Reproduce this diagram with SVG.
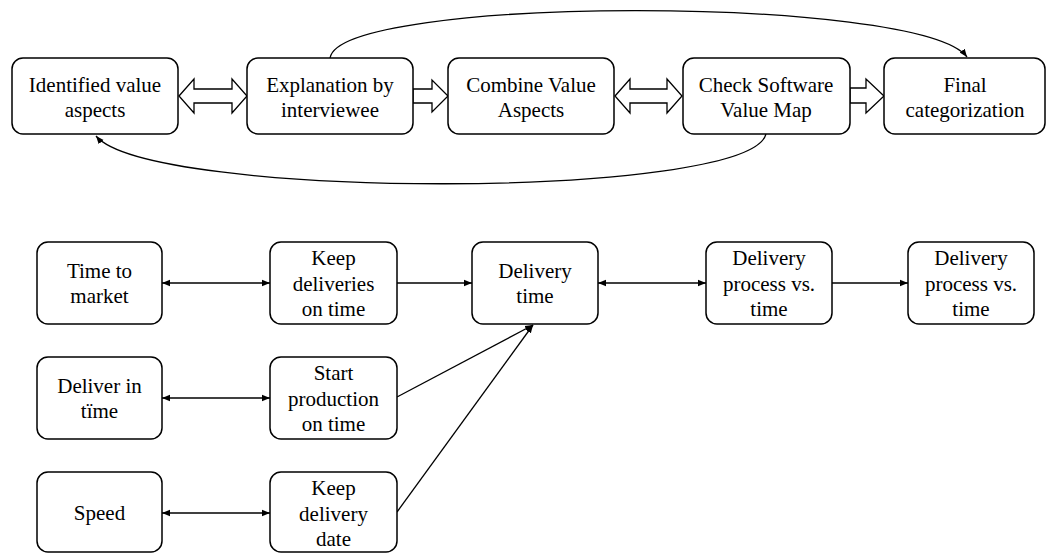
<svg xmlns="http://www.w3.org/2000/svg" width="1047" height="553" viewBox="0 0 1047 553">
<style>
.box{fill:#fff;stroke:#000;stroke-width:1.5}
.t{font-family:"Liberation Serif","Times New Roman",serif;font-size:21px;fill:#000;text-anchor:middle}
.ln{fill:none;stroke:#000;stroke-width:1.3}
.hollow{fill:#fff;stroke:#000;stroke-width:1.3;stroke-linejoin:miter}
</style>
<defs>
<marker id="ah" markerUnits="userSpaceOnUse" markerWidth="9" markerHeight="8" refX="8" refY="4" orient="auto-start-reverse">
<path d="M0,0.8 L8,4 L0,7.2 z" fill="#000"/>
</marker>
</defs>
<rect width="1047" height="553" fill="#fff"/>
<g id="connectors">
<polygon class="hollow" points="179,96 194,79 194,89 232,89 232,79 247,96 232,113 232,103 194,103 194,113"/>
<polygon class="hollow" points="413,89 432,89 432,80 448,96 432,112 432,103 413,103"/>
<polygon class="hollow" points="615,96 630,79 630,89 667,89 667,79 682,96 667,113 667,103 630,103 630,113"/>
<polygon class="hollow" points="850,88 866,88 866,79 884,96 866,113 866,103 850,103"/>
<path class="ln" d="M330,58 C340,-5 920,-5 967,57" marker-end="url(#ah)"/>
<path class="ln" d="M766,134 C750,200 150,200 96,136" marker-end="url(#ah)"/>
<line class="ln" x1="162" y1="283" x2="270" y2="283" marker-start="url(#ah)" marker-end="url(#ah)"/>
<line class="ln" x1="397" y1="283" x2="472" y2="283" marker-end="url(#ah)"/>
<line class="ln" x1="598" y1="283" x2="706" y2="283" marker-start="url(#ah)" marker-end="url(#ah)"/>
<line class="ln" x1="832" y1="283" x2="908" y2="283" marker-end="url(#ah)"/>
<line class="ln" x1="162" y1="398" x2="270" y2="398" marker-start="url(#ah)" marker-end="url(#ah)"/>
<line class="ln" x1="162" y1="513" x2="270" y2="513" marker-start="url(#ah)" marker-end="url(#ah)"/>
<line class="ln" x1="397" y1="397" x2="533" y2="325" marker-end="url(#ah)"/>
<line class="ln" x1="397" y1="512" x2="533" y2="325" marker-end="url(#ah)"/>
</g>
<g id="n1"><rect class="box" x="12" y="58" width="166" height="76" rx="11"/><text class="t" x="95" y="92">Identified value</text><text class="t" x="95" y="117">aspects</text></g>
<g id="n2"><rect class="box" x="247" y="58" width="166" height="76" rx="11"/><text class="t" x="330" y="92">Explanation by</text><text class="t" x="330" y="117">interviewee</text></g>
<g id="n3"><rect class="box" x="448" y="58" width="166" height="76" rx="11"/><text class="t" x="531" y="92">Combine Value</text><text class="t" x="531" y="117">Aspects</text></g>
<g id="n4"><rect class="box" x="683" y="58" width="167" height="76" rx="11"/><text class="t" x="766" y="92">Check Software</text><text class="t" x="766" y="117">Value Map</text></g>
<g id="n5"><rect class="box" x="884" y="58" width="161" height="76" rx="11"/><text class="t" x="965" y="92">Final</text><text class="t" x="965" y="117">categorization</text></g>
<g id="b1"><rect class="box" x="37" y="242" width="125" height="82" rx="11"/><text class="t" x="99.5" y="278">Time to</text><text class="t" x="99.5" y="303">market</text></g>
<g id="b2"><rect class="box" x="270" y="242" width="127" height="82" rx="11"/><text class="t" x="333.5" y="265">Keep</text><text class="t" x="333.5" y="291">deliveries</text><text class="t" x="333.5" y="316">on time</text></g>
<g id="b3"><rect class="box" x="472" y="242" width="126" height="82" rx="11"/><text class="t" x="535" y="278">Delivery</text><text class="t" x="535" y="303">time</text></g>
<g id="b4"><rect class="box" x="706" y="242" width="126" height="82" rx="11"/><text class="t" x="769" y="265">Delivery</text><text class="t" x="769" y="291">process vs.</text><text class="t" x="769" y="316">time</text></g>
<g id="b5"><rect class="box" x="908" y="242" width="126" height="82" rx="11"/><text class="t" x="971" y="265">Delivery</text><text class="t" x="971" y="291">process vs.</text><text class="t" x="971" y="316">time</text></g>
<g id="b6"><rect class="box" x="37" y="357" width="125" height="82" rx="11"/><text class="t" x="99.5" y="393">Deliver in</text><text class="t" x="99.5" y="418">tïme</text></g>
<g id="b7"><rect class="box" x="270" y="357" width="127" height="82" rx="11"/><text class="t" x="333.5" y="380">Start</text><text class="t" x="333.5" y="406">production</text><text class="t" x="333.5" y="431">on time</text></g>
<g id="b8"><rect class="box" x="37" y="472" width="125" height="80" rx="11"/><text class="t" x="99.5" y="520">Speed</text></g>
<g id="b9"><rect class="box" x="270" y="472" width="127" height="80" rx="11"/><text class="t" x="333.5" y="495">Keep</text><text class="t" x="333.5" y="521">delivery</text><text class="t" x="333.5" y="546">date</text></g>
</svg>
